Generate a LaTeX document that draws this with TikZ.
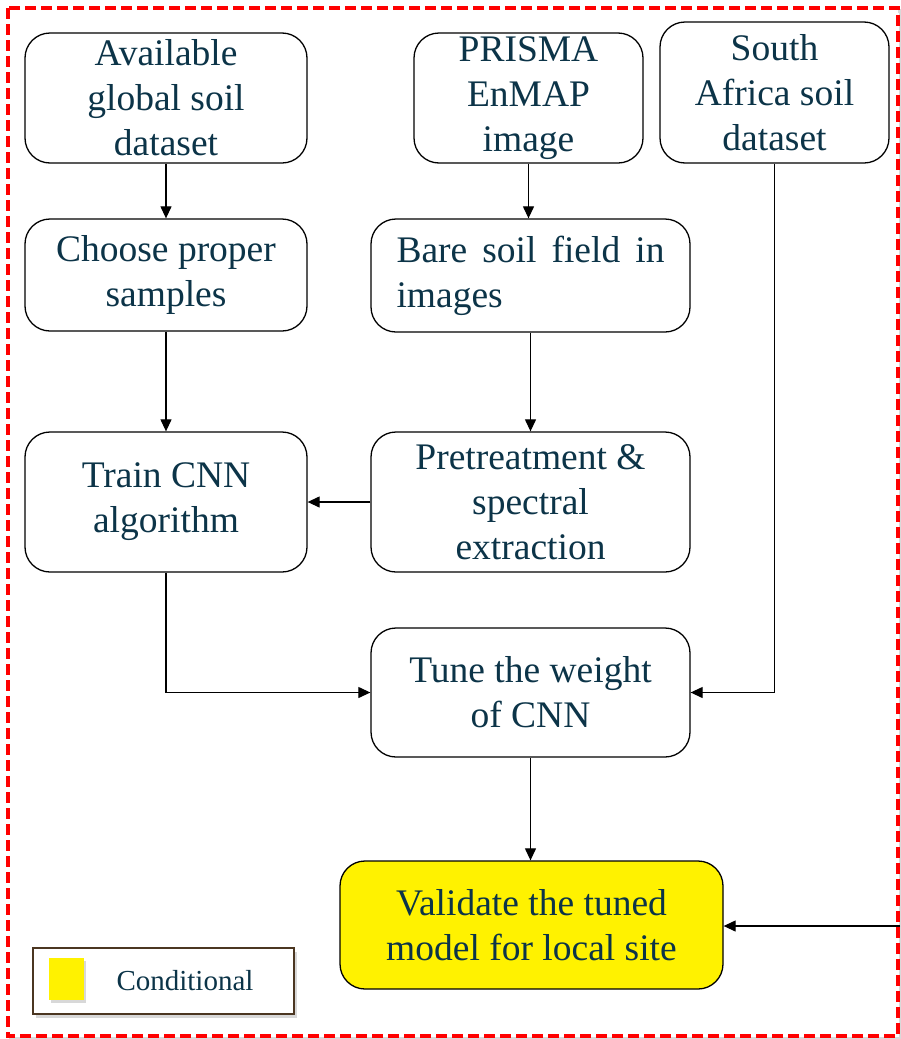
\documentclass[tikz,border=0pt]{standalone}
\usepackage{fontspec}
\setmainfont{Liberation Serif}
\usetikzlibrary{arrows.meta,shadows}
\definecolor{texte}{HTML}{0C3448}
\definecolor{cadre}{HTML}{4B3621}
\tikzset{
  boite/.style={draw, rounded corners=25pt, line width=1.3pt, inner sep=0pt,
    align=center, text=texte, font=\fontsize{37.5}{45}\selectfont},
  fleche/.style={-{Triangle[length=12pt,width=11pt]}, line width=1.2pt},
}
\begin{document}
\begin{tikzpicture}[x=1pt,y=-1pt]
\useasboundingbox (0,0) rectangle (900,1039);

%le cadre rouge
\draw[gray!30, line width=3.5pt] (11,11) rectangle (901,1039);
\draw[red, line width=3.5pt, dash pattern=on 11pt off 5pt, fill=white] (8,8) rectangle (898,1036);

%les boites du haut
\node[boite, minimum width=282pt, minimum height=130pt] (Global) at (166,98) {Available\\global soil\\dataset};
\node[boite, minimum width=229pt, minimum height=130pt] (Prisma) at (528.5,98) {PRISMA\\EnMAP\\image};
\node[boite, minimum width=229pt, minimum height=141pt] (Sud) at (774.5,92.5) {South\\Africa soil\\dataset};

%les boites du milieu
\node[boite, minimum width=282pt, minimum height=112pt] (Choix) at (166,275) {Choose proper\\samples};
\node[boite, minimum width=319pt, minimum height=113pt, text width=268pt, align=left] (Sol) at (530.5,275.5) {Bare\hfill soil\hfill field\hfill in\\images};
\node[boite, minimum width=282pt, minimum height=140pt] (Train) at (166,502) {Train CNN\\algorithm};
\node[boite, minimum width=319pt, minimum height=140pt] (Pretraitement) at (530.5,502) {Pretreatment \&\\spectral\\extraction};

%les boites du bas
\node[boite, minimum width=319pt, minimum height=129pt] (Reglage) at (530.5,692.5) {Tune the weight\\of CNN};
\node[boite, fill=yellow, minimum width=383pt, minimum height=128pt] (Valid) at (531.5,925) {Validate the tuned\\model for local site};

%la legende
\node[draw=cadre, line width=2.5pt, fill=white, minimum width=261pt, minimum height=66pt,
  drop shadow={shadow xshift=3pt, shadow yshift=-4pt, opacity=0.3}] (Legende) at (163.5,981) {};
\node[fill=yellow, inner sep=0pt, minimum width=35pt, minimum height=42pt,
  drop shadow={shadow xshift=2pt, shadow yshift=-3pt, opacity=0.3}] (Carre) at (66.5,979) {};
\node[text=texte, font=\fontsize{29}{34}\selectfont] (Condition) at (185,981) {Conditional};

%les fleches
\coordinate (Bord) at (900,926);
\draw[fleche] (Global) -- (Choix);
\draw[fleche] (Prisma.south) -- (Prisma.south |- Sol.north);
\draw[fleche] (Choix) -- (Train);
\draw[fleche] (Sol) -- (Pretraitement);
\draw[fleche] (Pretraitement) -- (Train);
\draw[fleche] (Train.south) |- (Reglage.west);
\draw[fleche] (Sud.south) |- (Reglage.east);
\draw[fleche] (Reglage.south) -- (Reglage.south |- Valid.north);
\draw[fleche] (Bord) -- (Bord -| Valid.east);

\end{tikzpicture}
\end{document}
